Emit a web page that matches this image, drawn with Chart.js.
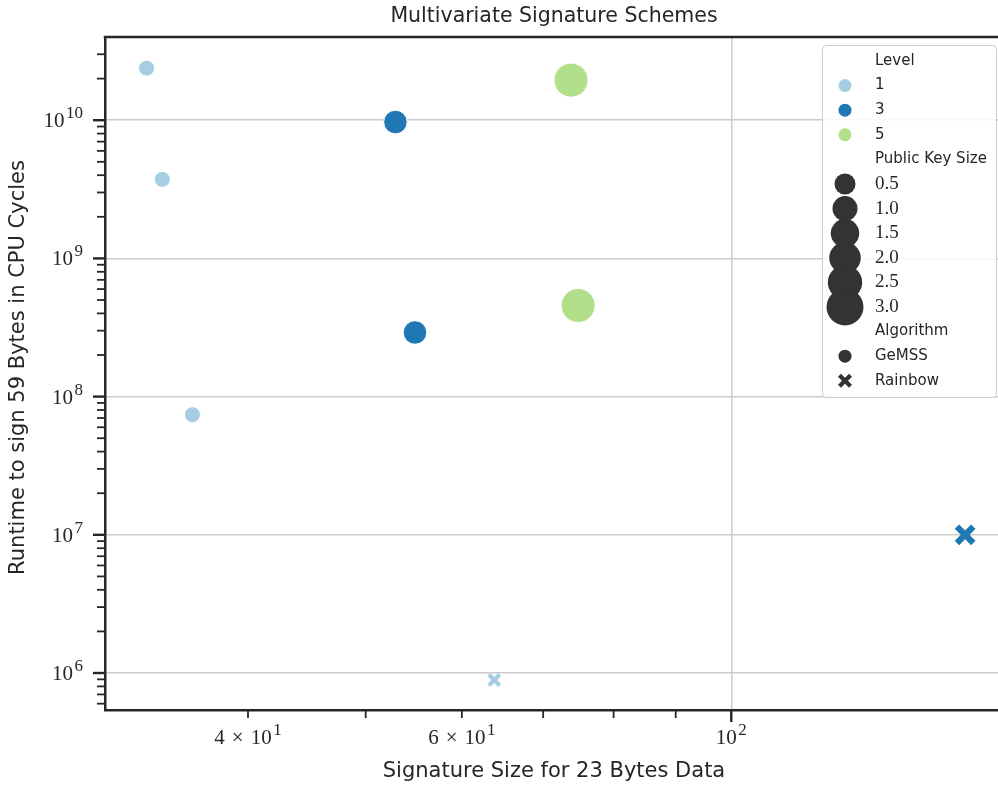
<!DOCTYPE html>
<html>
<head>
<meta charset="utf-8">
<script src="https://cdn.jsdelivr.net/npm/chart.js@4.4.1/dist/chart.umd.min.js"></script>
<style>
  html, body { margin: 0; padding: 0; background: #fff; overflow: hidden; }
  #wrap { width: 1010px; height: 787px; }
</style>
</head>
<body>
<div id="wrap"><canvas id="chart" width="1010" height="787"></canvas></div>
<script>
// one entry per scheme
const sigSize   = [33.0, 34.0, 36.0, 52.9, 54.9, 73.8, 74.8, 63.8, 155.8];
const runtime   = [2.38e10, 3.73e9, 7.4e7, 9.7e9, 2.91e8, 1.95e10, 4.56e8, 8.9e5, 1.0e7];
const level     = [1, 1, 1, 3, 3, 5, 5, 1, 3];
const pkSize    = [0.35, 0.35, 0.35, 1.24, 1.24, 3.04, 3.04, 0.16, 0.88];
const algorithm = ["GeMSS", "GeMSS", "GeMSS", "GeMSS", "GeMSS", "GeMSS", "GeMSS", "Rainbow", "Rainbow"];

const levels = [1, 3, 5];
const levelColors = ["#a6cee3", "#1f78b4", "#b2df8a"];
const algorithms = ["GeMSS", "Rainbow"];
const sizeLegend = ["0.5", "1.0", "1.5", "2.0", "2.5", "3.0"];

// axes
const xMin = 30.5, xMax = 167.4;
const yMin = 5.4e5, yMax = 4.0e10;
const xMajorTicks = [100];
const xMinorTicks = [40, 50, 60, 70, 80, 90];
const xLabelValues = [40, 60, 100];
const xLabelBase = ["4\u2004\u00d7\u200410", "6\u2004\u00d7\u200410", "10"];
const xLabelExp = ["1", "1", "2"];
const yMajorTicks = [1e6, 1e7, 1e8, 1e9, 1e10];
const yLabelExp = ["6", "7", "8", "9", "10"];

const ink = "#262626";
const sans = "'DejaVu Sans', sans-serif";
const serif = "'Liberation Serif', 'DejaVu Serif', serif";

// marker diameter in px from public key size
const markerDiameter = pk => Math.sqrt(139 + 335 * pk);
const legendDiameter = pk => Math.sqrt(256 + 370 * pk);

const yMinorTicks = [];
for (let e = 5; e <= 10; e++) {
  for (let m = 2; m <= 9; m++) {
    const v = m * Math.pow(10, e);
    if (v > yMin && v < yMax) yMinorTicks.push(v);
  }
}

const datasets = [];
algorithms.forEach(alg => {
  levels.forEach((lv, li) => {
    const idx = sigSize.map((_, i) => i).filter(i => level[i] === lv && algorithm[i] === alg);
    if (!idx.length) return;
    const isX = alg === "Rainbow";
    datasets.push({
      label: alg + " " + lv,
      data: idx.map(i => ({ x: sigSize[i], y: runtime[i] })),
      pointStyle: isX ? "crossRot" : "circle",
      pointRadius: idx.map(i => isX ? markerDiameter(pkSize[i]) * 0.557 : markerDiameter(pkSize[i]) / 2),
      pointBorderWidth: idx.map(i => isX ? markerDiameter(pkSize[i]) * 0.3 : 1),
      pointBackgroundColor: levelColors[li],
      pointBorderColor: isX ? levelColors[li] : "#ffffff",
    });
  });
});

const drawPow = (ctx, base, exp, x, y, align, size) => {
  const es = Math.round(size * 0.8);
  ctx.font = size + "px " + serif;
  const wb = ctx.measureText(base).width;
  ctx.font = es + "px " + serif;
  const we = ctx.measureText(exp).width;
  const total = wb + 1.5 + we;
  const start = align === "right" ? x - total : x - total / 2;
  ctx.textAlign = "left";
  ctx.textBaseline = "alphabetic";
  ctx.font = size + "px " + serif;
  ctx.fillText(base, start, y);
  ctx.font = es + "px " + serif;
  ctx.fillText(exp, start + wb + 1.5, y - size * 0.43);
};

const drawX = (ctx, cx, cy, d, color) => {
  const h = d / 2 - d * 0.106;
  ctx.strokeStyle = color;
  ctx.lineWidth = d * 0.3;
  ctx.beginPath();
  ctx.moveTo(cx - h, cy - h); ctx.lineTo(cx + h, cy + h);
  ctx.moveTo(cx - h, cy + h); ctx.lineTo(cx + h, cy - h);
  ctx.stroke();
};

const dot = (ctx, cx, cy, d, color) => {
  ctx.fillStyle = color;
  ctx.beginPath();
  ctx.arc(cx, cy, d / 2, 0, Math.PI * 2);
  ctx.fill();
};

const decor = {
  id: "decor",
  afterDraw(chart) {
    const { ctx, chartArea: area, scales } = chart;
    const xs = scales.x, ys = scales.y;
    ctx.save();

    // top and right spines
    ctx.strokeStyle = ink;
    ctx.lineWidth = 2.5;
    ctx.beginPath();
    ctx.moveTo(area.left - 1.25, area.top);
    ctx.lineTo(area.right, area.top);
    ctx.lineTo(area.right, area.bottom);
    ctx.stroke();

    // tick marks
    const mark = (x1, y1, x2, y2, w) => {
      ctx.lineWidth = w;
      ctx.beginPath(); ctx.moveTo(x1, y1); ctx.lineTo(x2, y2); ctx.stroke();
    };
    xMinorTicks.forEach(v => { const p = xs.getPixelForValue(v); mark(p, area.bottom, p, area.bottom + 8, 1.8); });
    xMajorTicks.forEach(v => { const p = xs.getPixelForValue(v); mark(p, area.bottom, p, area.bottom + 12, 2.4); });
    yMinorTicks.forEach(v => { const p = ys.getPixelForValue(v); mark(area.left, p, area.left - 8, p, 1.8); });
    yMajorTicks.forEach(v => { const p = ys.getPixelForValue(v); mark(area.left, p, area.left - 12, p, 2.4); });

    // tick labels
    ctx.fillStyle = ink;
    xLabelValues.forEach((v, i) => drawPow(ctx, xLabelBase[i], xLabelExp[i], xs.getPixelForValue(v), 744, "center", 21));
    yMajorTicks.forEach((v, i) => drawPow(ctx, "10", yLabelExp[i], area.left - 22, ys.getPixelForValue(v) + 7, "right", 21));

    // titles
    const cx = (area.left + area.right) / 2;
    ctx.textAlign = "center";
    ctx.textBaseline = "middle";
    ctx.font = "20.5px " + sans;
    ctx.fillText("Multivariate Signature Schemes", cx, 17);
    ctx.font = "21px " + sans;
    ctx.fillText("Signature Size for 23 Bytes Data", cx, 772);
    ctx.save();
    ctx.translate(19, (area.top + area.bottom) / 2 - 6);
    ctx.rotate(-Math.PI / 2);
    ctx.fillText("Runtime to sign 59 Bytes in CPU Cycles", 0, 0);
    ctx.restore();

    // legend
    const lx = 822, ly = 45, lw = 174, lh = 352;
    ctx.fillStyle = "rgba(255,255,255,0.85)";
    ctx.strokeStyle = "#cccccc";
    ctx.lineWidth = 1;
    ctx.beginPath();
    ctx.roundRect(lx + 0.5, ly + 0.5, lw, lh, 4);
    ctx.fill();
    ctx.stroke();

    const tx = 875, mx = 845, row0 = 61, step = 24.6;
    let r = 0;
    const text = (s, font) => {
      ctx.fillStyle = ink;
      ctx.font = font;
      ctx.textAlign = "left";
      ctx.textBaseline = "middle";
      ctx.fillText(s, tx, row0 + r * step);
    };
    const legendSans = "15px " + sans;
    const legendSerif = "19px " + serif;
    text("Level", legendSans); r++;
    levels.forEach((lv, i) => { dot(ctx, mx, row0 + r * step, 13, levelColors[i]); text(String(lv), legendSans); r++; });
    text("Public Key Size", legendSans); r++;
    sizeLegend.forEach(s => { dot(ctx, mx, row0 + r * step, legendDiameter(parseFloat(s)), "#333333"); text(s, legendSerif); r++; });
    text("Algorithm", legendSans); r++;
    dot(ctx, mx, row0 + r * step, 13, "#333333"); text(algorithms[0], legendSans); r++;
    drawX(ctx, mx, row0 + r * step, 14, "#333333"); text(algorithms[1], legendSans); r++;

    ctx.restore();
  }
};

new Chart(document.getElementById("chart"), {
  type: "scatter",
  data: { datasets },
  options: {
    responsive: false,
    animation: false,
    events: [],
    layout: { autoPadding: false, padding: { top: 37, right: 7, left: 0, bottom: 0 } },
    plugins: { legend: { display: false }, tooltip: { enabled: false } },
    scales: {
      x: {
        type: "logarithmic",
        min: xMin,
        max: xMax,
        afterFit: s => { s.height = 77; },
        afterBuildTicks: s => { s.ticks = xMajorTicks.map(v => ({ value: v })); },
        ticks: { display: false },
        grid: { color: "#cccccc", lineWidth: 1.5, drawTicks: false },
        border: { color: ink, width: 2.5 },
      },
      y: {
        type: "logarithmic",
        min: yMin,
        max: yMax,
        afterFit: s => { s.width = 105; },
        afterBuildTicks: s => { s.ticks = yMajorTicks.map(v => ({ value: v })); },
        ticks: { display: false },
        grid: { color: "#cccccc", lineWidth: 1.5, drawTicks: false },
        border: { color: ink, width: 2.5 },
      },
    },
  },
  plugins: [decor],
});
</script>
</body>
</html>
